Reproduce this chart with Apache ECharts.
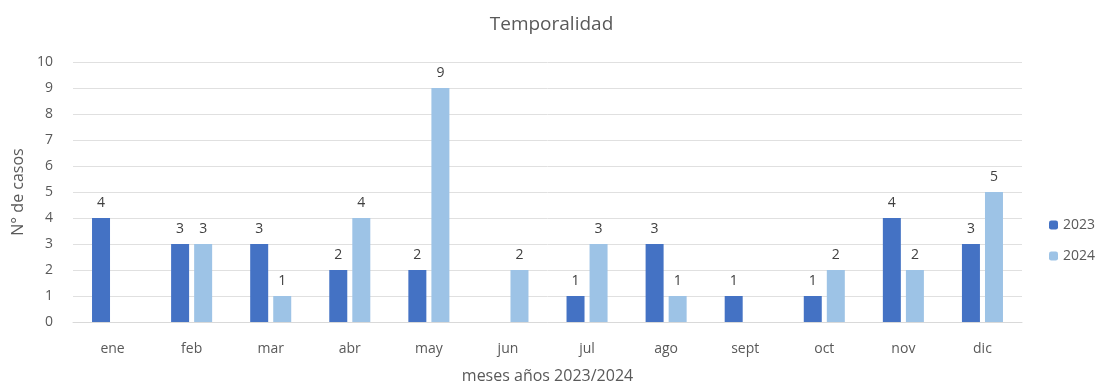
<!DOCTYPE html>
<html><head><meta charset="utf-8">
<script src="https://cdn.jsdelivr.net/npm/echarts@6/dist/echarts.min.js"></script>
<style>html,body{margin:0;padding:0;background:#fff}#c{width:1103px;height:388px}</style>
</head><body><div id="c"></div>
<script>
const categories = ['ene','feb','mar','abr','may','jun','jul','ago','sept','oct','nov','dic'];
const values2023 = [4,3,3,2,2,null,1,3,1,1,4,3];
const values2024 = [null,3,1,4,9,2,3,1,null,2,2,5];
const yTicks = [0,1,2,3,4,5,6,7,8,9,10];

const font = "'Open Sans', 'Liberation Sans', sans-serif";
const chart = echarts.init(document.getElementById('c'), null, {renderer:'canvas'});
const label = {show:true, position:'top', distance:8, color:'#404040', fontSize:14, fontFamily:font};
chart.setOption({
  animation:false,
  title:{text:'Temporalidad', left:'center', top:10, textStyle:{fontSize:19, fontWeight:'normal', color:'#595959', fontFamily:font}},
  legend:{orient:'vertical', left:1044, top:213, itemWidth:9, itemHeight:9, itemGap:17,
    textStyle:{fontSize:14, color:'#595959', fontFamily:font}, data:['2023','2024']},
  grid:{left:73, right:81, top:62, bottom:66, containLabel:false, outerBoundsMode:'none'},
  xAxis:{type:'category', data:categories, name:'meses años 2023/2024', nameLocation:'middle', nameGap:46,
    nameTextStyle:{fontSize:16, color:'#595959', fontFamily:font},
    axisLine:{lineStyle:{color:'#d9d9d9'}}, axisTick:{show:false},
    axisLabel:{color:'#595959', fontSize:14, fontFamily:font, margin:20}},
  yAxis:{type:'value', min:yTicks[0], max:yTicks[yTicks.length-1], interval:1, name:'N° de casos', nameLocation:'middle', nameGap:43,
    nameTextStyle:{fontSize:16, color:'#595959', fontFamily:font},
    axisLine:{show:false}, axisTick:{show:false},
    axisLabel:{color:'#595959', fontSize:14, fontFamily:font, margin:20},
    splitLine:{lineStyle:{color:'#e0e0e0'}}},
  series:[
    {name:'2023', type:'bar', data:values2023, barWidth:18, barGap:'28%', itemStyle:{color:'#4472C4'}, label:label},
    {name:'2024', type:'bar', data:values2024, barWidth:18, itemStyle:{color:'#9DC3E6'}, label:label}
  ]
});
</script></body></html>
